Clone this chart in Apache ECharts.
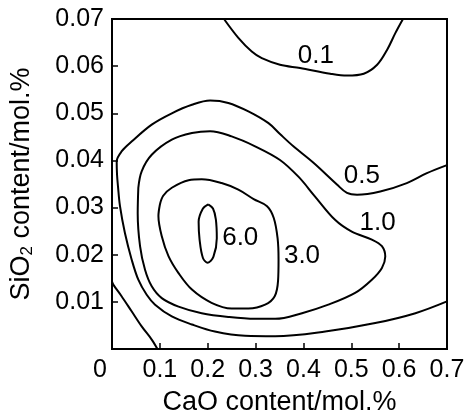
<!DOCTYPE html>
<html>
<head>
<meta charset="utf-8">
<script src="https://cdn.jsdelivr.net/npm/echarts@6/dist/echarts.min.js"></script>
<style>
html,body{margin:0;padding:0;background:#fff;}
#chart{width:466px;height:418px;}
</style>
</head>
<body>
<div id="chart"></div>
<script>
// Axis ticks
var xTicks = [0, 0.1, 0.2, 0.3, 0.4, 0.5, 0.6, 0.7];
var yTicks = [0, 0.01, 0.02, 0.03, 0.04, 0.05, 0.06, 0.07];

// Contour lines, [CaO, SiO2] in mol.%
var contour01Top = [[0.234,0.07],[0.264,0.066],[0.292,0.0631],[0.313,0.0617],[0.351,0.0603],[0.393,0.0596],[0.456,0.0584],[0.491,0.058],[0.526,0.0584],[0.554,0.0603],[0.575,0.0635],[0.592,0.067],[0.608,0.07]];
var contour01Low = [[0,0.0143],[0.003,0.0136],[0.02,0.0112],[0.041,0.008],[0.062,0.0048],[0.083,0.002],[0.095,0]];
var contour05 = [[0.7,0.039],[0.658,0.0373],[0.616,0.0352],[0.5605,0.0334],[0.512,0.0327],[0.491,0.0331],[0.47,0.0349],[0.421,0.0395],[0.379,0.043],[0.351,0.0456],[0.327,0.0479],[0.285,0.0504],[0.243,0.0522],[0.205,0.0527],[0.167,0.0518],[0.125,0.05],[0.083,0.0476],[0.041,0.044],[0.02,0.0419],[0.0098,0.0398],[0.0105,0.037],[0.0125,0.0345],[0.0167,0.0303],[0.027,0.0246],[0.041,0.019],[0.055,0.0147],[0.0725,0.0115],[0.09,0.0094],[0.125,0.0069],[0.167,0.0052],[0.215,0.0037],[0.278,0.0028],[0.341,0.0027],[0.4455,0.0037],[0.55,0.0055],[0.634,0.0076],[0.7,0.0101]];
var contour10 = [[0.055,0.0342],[0.062,0.0377],[0.083,0.0412],[0.125,0.0444],[0.167,0.0458],[0.205,0.0462],[0.25,0.0451],[0.299,0.043],[0.351,0.0401],[0.39,0.0365],[0.423,0.0325],[0.466,0.0274],[0.501,0.0249],[0.543,0.0232],[0.564,0.0218],[0.571,0.0196],[0.564,0.0172],[0.543,0.0147],[0.508,0.0119],[0.452,0.0094],[0.397,0.0076],[0.341,0.0064],[0.299,0.0064],[0.243,0.0068],[0.1875,0.0076],[0.139,0.009],[0.104,0.0108],[0.083,0.0133],[0.069,0.0168],[0.0586,0.0218],[0.0537,0.0288],[0.055,0.0342]];
var contour30 = [[0.1,0.0306],[0.107,0.0325],[0.125,0.0342],[0.16,0.0358],[0.1875,0.036],[0.229,0.0352],[0.264,0.0338],[0.296,0.0318],[0.324,0.0303],[0.338,0.0278],[0.346,0.0235],[0.348,0.019],[0.347,0.0145],[0.34,0.0112],[0.32,0.0094],[0.285,0.0086],[0.25,0.0086],[0.208,0.0098],[0.167,0.0126],[0.139,0.0161],[0.118,0.0197],[0.104,0.0239],[0.097,0.0282],[0.1,0.0306]];
var contour60 = [[0.201,0.0307],[0.211,0.0298],[0.217,0.0275],[0.219,0.0235],[0.212,0.0196],[0.2,0.0183],[0.19,0.0193],[0.183,0.0232],[0.181,0.027],[0.19,0.0298],[0.201,0.0307]];

// Contour level labels
var levelNames = ['0.1', '0.5', '1.0', '3.0', '6.0'];
var levelLabelX = [0.426, 0.522, 0.555, 0.397, 0.268];
var levelLabelY = [0.0621, 0.0368, 0.0267, 0.0197, 0.0235];

var FONT = 'Liberation Sans';
var chart = echarts.init(document.getElementById('chart'), null, {renderer: 'canvas'});

var lineStyle = {color: '#000', width: 2};
function contourSeries(data) {
  return {type: 'line', data: data, smooth: 0.35, showSymbol: false, symbol: 'none',
          lineStyle: lineStyle, silent: true, animation: false, z: 3};
}

var labelData = levelNames.map(function (n, i) { return [levelLabelX[i], levelLabelY[i], n]; });

chart.setOption({
  backgroundColor: '#fff',
  animation: false,
  grid: {left: 112, right: 19, top: 19, bottom: 69, show: true, borderColor: '#000', borderWidth: 2,
         containLabel: false, outerBoundsMode: 'none'},
  xAxis: {
    type: 'value', min: xTicks[0], max: xTicks[xTicks.length - 1], interval: 0.1,
    axisLine: {show: true, lineStyle: {color: '#000', width: 2}},
    axisTick: {show: true, inside: true, length: 6, lineStyle: {color: '#000', width: 1.5}},
    splitLine: {show: false},
    axisLabel: {
      color: '#000', fontSize: 25, fontFamily: FONT, margin: 9,
      formatter: function (v) { return Math.abs(v) < 1e-9 ? '{z|0}' : v.toFixed(1); },
      rich: {z: {fontSize: 25, fontFamily: FONT, color: '#000', padding: [0, 24, 0, 0]}}
    },
    name: 'CaO content/mol.%', nameLocation: 'middle', nameGap: 40,
    nameTextStyle: {color: '#000', fontSize: 27, fontFamily: FONT}
  },
  yAxis: {
    type: 'value', min: yTicks[0], max: yTicks[yTicks.length - 1], interval: 0.01,
    axisLine: {show: true, lineStyle: {color: '#000', width: 2}},
    axisTick: {show: true, inside: true, length: 6, lineStyle: {color: '#000', width: 1.5}},
    splitLine: {show: false},
    axisLabel: {
      color: '#000', fontSize: 25, fontFamily: FONT, margin: 8,
      formatter: function (v) { return Math.abs(v) < 1e-9 ? '' : v.toFixed(2); }
    },
    name: 'SiO{s|2} content/mol.%', nameLocation: 'middle', nameGap: 76,
    nameTextStyle: {color: '#000', fontSize: 27, fontFamily: FONT,
      rich: {s: {fontSize: 17, fontFamily: FONT, color: '#000', verticalAlign: 'bottom', padding: [12, 0, 0, 0]}}}
  },
  series: [
    contourSeries(contour01Top),
    contourSeries(contour01Low),
    contourSeries(contour05),
    contourSeries(contour10),
    contourSeries(contour30),
    contourSeries(contour60),
    {
      type: 'scatter', data: labelData, symbolSize: 1,
      itemStyle: {color: 'rgba(0,0,0,0)', opacity: 1}, silent: true,
      animation: false, z: 5,
      label: {show: true, position: 'inside', color: '#000', opacity: 1, fontSize: 26, fontFamily: FONT,
              textBorderWidth: 0,
              formatter: function (p) { return p.value[2]; }}
    }
  ]
});
</script>
</body>
</html>
